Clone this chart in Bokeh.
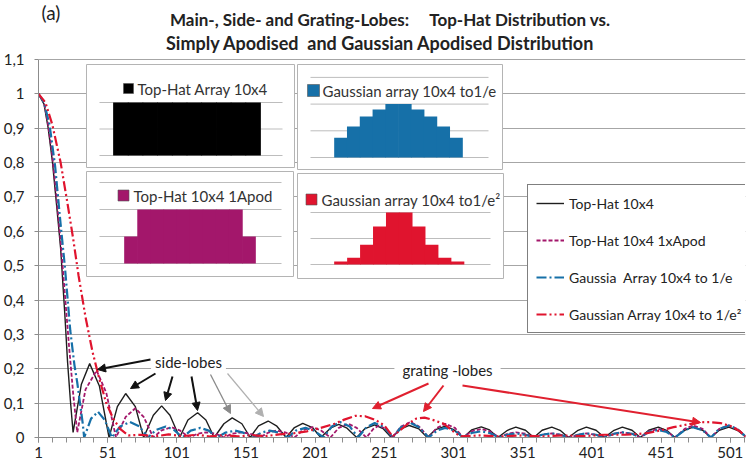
from bokeh.plotting import figure
from bokeh.models import (Range1d, FixedTicker, Legend, LegendItem, Label,
                          Arrow, NormalHead)
from bokeh.embed import file_html
from bokeh.resources import INLINE

# ---------------- data ----------------
x_tick_values = [1, 51, 101, 151, 201, 251, 301, 351, 401, 451, 501]
x_minor_values = [1, 11, 21, 31, 41, 51, 61, 71, 81, 91, 101, 111, 121, 131, 141, 151,
                  161, 171, 181, 191, 201, 211, 221, 231, 241, 251, 261, 271, 281, 291,
                  301, 311, 321, 331, 341, 351, 361, 371, 381, 391, 401, 411, 421, 431,
                  441, 451, 461, 471, 481, 491, 501, 511]
y_tick_values = [0, 0.1, 0.2, 0.3, 0.4, 0.5, 0.6, 0.7, 0.8, 0.9, 1.0, 1.1]
y_tick_labels = ["0", "0,1", "0,2", "0,3", "0,4", "0,5", "0,6", "0,7", "0,8", "0,9", "1", "1,1"]

black_x = [1, 5, 8, 11, 14, 17, 20, 22, 24, 26,
           32, 38, 45, 52,
           58, 64, 71, 77,
           84, 90, 96, 103,
           109, 116, 122, 128,
           135, 141, 148, 154,
           160, 167, 173, 180,
           186, 192, 199, 205,
           212, 218, 224, 231,
           237, 244, 250, 256,
           263, 269, 276, 282,
           288, 295, 301, 308,
           314, 321, 327, 333,
           340, 346, 353, 359,
           365, 372, 378, 384,
           391, 397, 404, 410,
           417, 423, 430, 436,
           442, 449, 455, 461,
           468, 474, 481, 487,
           493, 500, 506, 512]
black_y = [1.0, 0.97, 0.90, 0.805, 0.68, 0.55, 0.36, 0.22, 0.11, 0.015,
           0.155, 0.215, 0.15, 0.0,
           0.09, 0.128, 0.09, 0.0,
           0.065, 0.092, 0.065, 0.0,
           0.051, 0.072, 0.051, 0.0,
           0.04, 0.057, 0.04, 0.0,
           0.034, 0.048, 0.034, 0.0,
           0.029, 0.041, 0.029, 0.0,
           0.027, 0.038, 0.027, 0.0,
           0.026, 0.037, 0.026, 0.0,
           0.025, 0.035, 0.025, 0.0,
           0.023, 0.033, 0.023, 0.0,
           0.022, 0.031, 0.022, 0.0,
           0.021, 0.03, 0.021, 0.0,
           0.021, 0.03, 0.021, 0.0,
           0.021, 0.03, 0.021, 0.0,
           0.021, 0.03, 0.021, 0.0,
           0.021, 0.03, 0.021, 0.0,
           0.021, 0.03, 0.021, 0.0,
           0.021, 0.03, 0.021, 0.003]

mag_x = [1, 5, 8, 11, 14, 17, 20, 23, 26, 29,
         35, 43, 50, 57,
         64, 71, 77, 84,
         90, 97, 103, 110,
         116, 122, 129, 135,
         141, 148, 154, 161,
         167, 173, 180, 186,
         192, 199, 205, 212,
         218, 225, 231, 238,
         243, 247, 252, 257,
         263, 270, 276, 283,
         289, 295, 302, 308,
         314, 321, 327, 334,
         340, 346, 353, 359,
         365, 372, 378, 385,
         391, 397, 404, 410,
         417, 423, 430, 436,
         442, 449, 455, 461,
         468, 474, 481, 487,
         493, 500, 506, 512]
mag_y = [1.0, 0.975, 0.91, 0.82, 0.70, 0.57, 0.42, 0.27, 0.13, 0.015,
         0.14, 0.195, 0.13, 0.0,
         0.06, 0.085, 0.06, 0.0,
         0.021, 0.03, 0.021, 0.0,
         0.011, 0.015, 0.011, 0.0,
         0.011, 0.015, 0.011, 0.0,
         0.014, 0.02, 0.014, 0.0,
         0.021, 0.03, 0.021, 0.0,
         0.028, 0.04, 0.028, 0.0,
         0.025, 0.035, 0.025, 0.0,
         0.032, 0.045, 0.032, 0.0,
         0.028, 0.04, 0.028, 0.0,
         0.018, 0.025, 0.018, 0.0,
         0.011, 0.015, 0.011, 0.0,
         0.008, 0.012, 0.008, 0.0,
         0.008, 0.012, 0.008, 0.0,
         0.011, 0.015, 0.011, 0.0,
         0.018, 0.025, 0.018, 0.0,
         0.025, 0.035, 0.025, 0.0,
         0.025, 0.035, 0.025, 0.003]

blue_x = [1, 5, 9, 13, 17, 20, 24, 27, 29, 31, 33, 34,
          39, 44, 49, 54,
          60, 67, 74, 80,
          86, 93, 99, 105,
          111, 118, 124, 130,
          136, 143, 149, 156,
          162, 168, 175, 181,
          187, 194, 200, 207,
          213, 219, 226, 232,
          238, 244, 251, 257,
          263, 270, 276, 283,
          289, 295, 302, 308,
          314, 321, 327, 334,
          340, 346, 353, 359,
          365, 372, 378, 385,
          391, 397, 404, 410,
          417, 423, 430, 436,
          442, 449, 455, 461,
          468, 474, 481, 487,
          493, 500, 506, 512]
blue_y = [1.0, 0.975, 0.91, 0.79, 0.62, 0.50, 0.31, 0.21, 0.16, 0.10, 0.04, 0.0,
          0.055, 0.075, 0.05, 0.0,
          0.032, 0.045, 0.032, 0.0,
          0.022, 0.032, 0.022, 0.0,
          0.02, 0.028, 0.02, 0.0,
          0.014, 0.02, 0.014, 0.0,
          0.014, 0.02, 0.014, 0.0,
          0.02, 0.028, 0.02, 0.0,
          0.032, 0.045, 0.032, 0.0,
          0.03, 0.042, 0.03, 0.0,
          0.03, 0.042, 0.03, 0.0,
          0.02, 0.028, 0.02, 0.0,
          0.013, 0.018, 0.013, 0.0,
          0.008, 0.012, 0.008, 0.0,
          0.008, 0.012, 0.008, 0.0,
          0.008, 0.012, 0.008, 0.0,
          0.011, 0.015, 0.011, 0.0,
          0.016, 0.022, 0.016, 0.0,
          0.021, 0.03, 0.021, 0.0,
          0.025, 0.035, 0.025, 0.003]

red_x = [1, 6, 11, 17, 22, 26, 30, 35, 40, 45, 50, 55, 60, 66,
         75, 85, 95, 105, 115, 125, 135, 145, 155, 165, 175, 185,
         195, 205, 215, 222, 230, 237, 245, 251, 257,
         262, 268, 274, 280, 287, 294, 300, 306,
         320, 335, 350, 365, 380, 395, 410, 425, 440,
         450, 460, 470, 478, 486, 494, 502, 508, 512]
red_y = [1.0, 0.975, 0.91, 0.80, 0.68, 0.58, 0.47, 0.35, 0.25, 0.17, 0.10, 0.055, 0.025, 0.006,
         0.008, 0.003, 0.009, 0.004, 0.008, 0.003, 0.007, 0.003, 0.007, 0.004, 0.009, 0.012,
         0.018, 0.028, 0.04, 0.052, 0.063, 0.062, 0.05, 0.035, 0.003,
         0.02, 0.04, 0.055, 0.058, 0.05, 0.04, 0.02, 0.003,
         0.006, 0.003, 0.006, 0.003, 0.006, 0.004, 0.008, 0.008, 0.012,
         0.02, 0.03, 0.038, 0.044, 0.045, 0.042, 0.032, 0.018, 0.003]

series_names = ["Top-Hat 10x4", "Top-Hat 10x4 1xApod",
                "Gaussia  Array 10x4 to 1/e", "Gaussian Array 10x4 to 1/e\u00b2"]

# inset element weights (10 elements each)
tophat_weights = [1, 1, 1, 1, 1, 1, 1, 1, 1, 1]
apod_weights = [0.5, 1, 1, 1, 1, 1, 1, 1, 1, 0.5]
gauss_e_weights = [0.37, 0.58, 0.77, 0.9, 1.0, 1.0, 0.9, 0.77, 0.58, 0.37]
gauss_e2_weights = [0.06, 0.13, 0.38, 0.73, 1.0, 1.0, 0.73, 0.38, 0.13, 0.06]
inset_titles = ["Top-Hat Array 10x4", "Gaussian array 10x4 to1/e",
                "Top-Hat 10x4 1Apod", "Gaussian array 10x4 to1/e\u00b2"]

title_line1 = "Main-, Side- and Grating-Lobes:\u00a0\u00a0\u00a0\u00a0 Top-Hat Distribution vs."
title_line2 = "Simply Apodised\u00a0 and Gaussian Apodised Distribution"
panel_tag = "(a)"

# ---------------- styles ----------------
C_BLACK = "#1e1e1e"
C_MAG = "#a3176b"
C_BLUE = "#1670a8"
C_RED = "#e0142e"
FONT = "Lato"

# Page-pixel geometry: data area 38..745 x 59..437; the frame is extended up to
# the top of the page so that the title texts sit inside it.
FL, FR, FB = 38.0, 745.0, 437.0
TOP = 0.0
FT_DATA = 59.0            # page y of the value 1.1
X0, X1, Y0 = 1, 512, 0.0
YMAX = 1.1
Y1 = Y0 + (FB - TOP) * (YMAX - Y0) / (FB - FT_DATA)


def dx(px):
    return X0 + (px - FL) * (X1 - X0) / (FR - FL)


def dy(py):
    return Y0 + (FB - py) * (Y1 - Y0) / (FB - TOP)


p = figure(frame_width=int(FR - FL), frame_height=int(FB - TOP),
           x_range=Range1d(X0, X1), y_range=Range1d(Y0, Y1),
           output_backend="svg", toolbar_location=None,
           min_border_left=38, min_border_right=8, min_border_top=0,
           min_border_bottom=30)
p.outline_line_color = None
p.background_fill_color = "white"
p.border_fill_color = "white"

# axes
p.xaxis.ticker = FixedTicker(ticks=x_tick_values, minor_ticks=x_minor_values)
p.xaxis.axis_line_color = "#8c8c8c"
p.xaxis.major_tick_line_color = "#8c8c8c"
p.xaxis.minor_tick_line_color = "#8c8c8c"
p.xaxis.major_tick_out = 5
p.xaxis.major_tick_in = 0
p.xaxis.minor_tick_out = 5
p.xaxis.minor_tick_in = 0
p.xaxis.major_label_standoff = 4
p.xaxis.major_label_text_font = FONT
p.xaxis.major_label_text_font_size = "15px"
p.xaxis.major_label_text_color = "#222222"

p.yaxis.ticker = FixedTicker(ticks=y_tick_values)
p.yaxis.bounds = (0, YMAX)
p.yaxis.major_label_overrides = {v: t for v, t in zip(y_tick_values, y_tick_labels)}
p.yaxis.axis_line_color = "#8c8c8c"
p.yaxis.major_tick_line_color = "#8c8c8c"
p.yaxis.major_tick_out = 4
p.yaxis.major_tick_in = 0
p.yaxis.minor_tick_line_color = None
p.yaxis.major_label_standoff = 10
p.yaxis.major_label_text_font = FONT
p.yaxis.major_label_text_font_size = "15px"
p.yaxis.major_label_text_color = "#222222"

p.xgrid.visible = False
p.ygrid.ticker = FixedTicker(ticks=y_tick_values)
p.ygrid.grid_line_color = "#a6a6a6"
p.ygrid.grid_line_width = 1

# titles and panel tag
p.add_layout(Label(x=dx(390), y=dy(19), text=title_line1, text_font=FONT,
                   text_font_style="bold", text_font_size="17px", text_color="#222222",
                   text_align="center", text_baseline="middle"))
p.add_layout(Label(x=dx(380), y=dy(42), text=title_line2, text_font=FONT,
                   text_font_style="bold", text_font_size="18px", text_color="#222222",
                   text_align="center", text_baseline="middle"))
p.add_layout(Label(x=dx(41), y=dy(12), text=panel_tag, text_font=FONT,
                   text_font_size="19px", text_color="#222222",
                   text_align="left", text_baseline="middle"))

# curves
r_black = p.line(black_x, black_y, line_color=C_BLACK, line_width=1.4)
r_mag = p.line(mag_x, mag_y, line_color=C_MAG, line_width=1.8, line_dash="4 2")
r_blue = p.line(blue_x, blue_y, line_color=C_BLUE, line_width=2.2, line_dash="10 3 2 3")
r_red = p.line(red_x, red_y, line_color=C_RED, line_width=2.2, line_dash="10 3 2 3 2 3")

# ---------------- insets ----------------
insets = [
    dict(box=(86, 64, 294, 167), col0=113, colw=14.7, base=155, unit=53,
         grid=[0, 0.5, 1.0], gl=99, gr=282, w=tophat_weights, c="#000000",
         key=(128, 88), ks=10, tx=137, ty=88, title=inset_titles[0]),
    dict(box=(297, 64, 502, 169), col0=334, colw=12.8, base=157, unit=53.4,
         grid=[0, 0.5, 1.0, 1.5], gl=310, gr=488, w=gauss_e_weights, c=C_BLUE,
         key=(313, 90), ks=12, tx=322, ty=90, title=inset_titles[1]),
    dict(box=(86, 171, 293, 276), col0=124, colw=13.1, base=263, unit=54,
         grid=[0, 0.5, 1.0, 1.5], gl=99, gr=281, w=apod_weights, c=C_MAG,
         key=(123, 195), ks=11, tx=133, ty=195, title=inset_titles[2]),
    dict(box=(297, 173, 503, 278), col0=334, colw=12.95, base=264, unit=52,
         grid=[0, 0.5, 1.0], gl=310, gr=490, w=gauss_e2_weights, c=C_RED,
         key=(311, 199), ks=11, tx=321, ty=199, title=inset_titles[3]),
]

for k, ins in enumerate(insets):
    name = "inset%d" % k
    xs = -(ins["col0"] - FL) / ins["colw"]
    xe = xs + (FR - FL) / ins["colw"]
    ys = -(FB - ins["base"]) / ins["unit"]
    ye = ys + (FB - TOP) / ins["unit"]
    p.extra_x_ranges[name] = Range1d(xs, xe)
    p.extra_y_ranges[name] = Range1d(ys, ye)
    l, t, r, b = ins["box"]
    p.quad(left=[dx(l)], right=[dx(r)], top=[dy(t)], bottom=[dy(b)],
           fill_color="white", line_color="#b4b4b4", line_width=1)
    g_l = (ins["gl"] - ins["col0"]) / ins["colw"]
    g_r = (ins["gr"] - ins["col0"]) / ins["colw"]
    for gv in ins["grid"]:
        p.segment(x0=[g_l], x1=[g_r], y0=[gv], y1=[gv], line_color="#bdbdbd",
                  line_width=1, x_range_name=name, y_range_name=name)
    cols = [i + 0.5 for i in range(len(ins["w"]))]
    p.vbar(x=cols, top=ins["w"], bottom=0, width=1.05, fill_color=ins["c"],
           line_color=None, x_range_name=name, y_range_name=name)
    kx, ky = ins["key"]
    p.scatter([dx(kx)], [dy(ky)], marker="square", size=ins["ks"],
              fill_color=ins["c"], line_color="#555555", line_width=0.6)
    p.add_layout(Label(x=dx(ins["tx"]), y=dy(ins["ty"]), text=ins["title"],
                       text_font=FONT, text_font_size="15px", text_color="#333333",
                       text_align="left", text_baseline="middle"))

# ---------------- legend ----------------
legend = Legend(items=[LegendItem(label=series_names[0], renderers=[r_black]),
                       LegendItem(label=series_names[1], renderers=[r_mag]),
                       LegendItem(label=series_names[2], renderers=[r_blue]),
                       LegendItem(label=series_names[3], renderers=[r_red])],
                location=(489, 104))
legend.border_line_color = "black"
legend.border_line_width = 1
legend.background_fill_color = "white"
legend.background_fill_alpha = 1.0
legend.label_text_font = FONT
legend.label_text_font_size = "14px"
legend.label_text_color = "#222222"
legend.glyph_width = 28
legend.glyph_height = 20
legend.label_height = 20
legend.spacing = 17
legend.padding = 8
legend.margin = 0
legend.label_standoff = 5
p.add_layout(legend)

# ---------------- annotations ----------------
p.add_layout(Label(x=dx(188), y=dy(361), text="side-lobes", text_font=FONT,
                   text_font_size="15px", text_color="#222222", text_align="center",
                   text_baseline="middle", background_fill_color="white",
                   padding=4))
p.add_layout(Label(x=dx(447), y=dy(369), text="grating -lobes", text_font=FONT,
                   text_font_size="15px", text_color="#222222", text_align="center",
                   text_baseline="middle", background_fill_color="white",
                   padding=8))

arrows = [
    ((150, 359), (97, 369), "#111111", 2.0),
    ((155, 373), (130, 388), "#111111", 2.0),
    ((172, 376), (165, 400), "#111111", 2.0),
    ((191, 376), (197, 410), "#111111", 2.0),
    ((210, 374), (230, 413), "#8a8a8a", 1.3),
    ((227, 373), (263, 416), "#b0b0b0", 1.2),
    ((428, 383), (372, 408), "#e0202f", 2.0),
    ((443, 385), (423, 411), "#e0202f", 2.0),
    ((462, 385), (700, 422), "#e0202f", 2.0),
]
for (sx, sy), (ex, ey), col, lw in arrows:
    p.add_layout(Arrow(end=NormalHead(size=8, fill_color=col, line_color=col),
                       x_start=dx(sx), y_start=dy(sy), x_end=dx(ex), y_end=dy(ey),
                       line_color=col, line_width=lw))

open("out.html", "w").write(file_html(p, INLINE))
